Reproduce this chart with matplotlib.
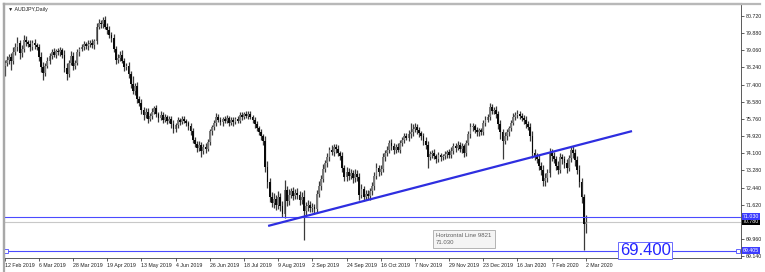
import matplotlib.pyplot as plt
import numpy as np
from matplotlib.lines import Line2D
import matplotlib.transforms as mtransforms

plt.rcParams['font.family'] = ['Liberation Sans', 'DejaVu Sans']

# daily closes, AUDJPY, 12 Feb 2019 .. 2 Mar 2020 (one value per bar)
first_open = 78.30
close = [
    78.44, 78.60, 78.75, 78.55, 78.95, 79.20, 79.40, 78.90, 79.10, 79.55,
    79.45, 79.35, 79.20, 79.40, 79.30, 79.20, 78.75, 78.25, 77.95, 78.30,
    78.55, 78.80, 78.95, 78.85, 79.00, 78.95, 79.05, 78.85, 78.20, 77.90,
    78.45, 78.80, 78.30, 78.45, 78.95, 79.10, 79.20, 79.35, 79.25, 79.35,
    79.40, 79.30, 79.50, 80.20, 80.35, 80.30, 80.50, 80.20, 80.05, 79.80,
    79.65, 79.10, 78.60, 78.70, 78.85, 78.55, 78.25, 78.30, 77.90, 77.45,
    77.10, 77.35, 76.70, 76.50, 76.20, 75.95, 76.10, 75.75, 75.90, 76.10,
    76.25, 76.00, 75.80, 75.95, 75.70, 75.85, 75.65, 75.75, 75.50, 75.25,
    75.45, 75.70, 75.60, 75.75, 75.65, 75.55, 75.40, 75.15, 74.75, 74.55,
    74.35, 74.50, 74.20, 74.40, 74.30, 74.65, 75.15, 75.35, 75.55, 75.85,
    75.70, 75.60, 75.75, 75.65, 75.80, 75.55, 75.70, 75.60, 75.75, 75.65,
    75.95, 75.85, 76.00, 75.90, 76.00, 75.85, 75.70, 75.50, 75.30, 75.10,
    74.90, 74.70, 73.45, 72.70, 72.00, 71.70, 71.90, 71.60, 72.00, 71.55,
    71.15, 72.30, 71.80, 72.10, 72.25, 72.05, 72.20, 72.10, 71.85, 72.00,
    71.30, 71.55, 71.60, 71.45, 71.50, 71.40, 72.15, 72.50, 72.85, 73.35,
    73.60, 73.90, 74.25, 74.15, 74.40, 74.30, 74.10, 73.95, 73.40, 72.95,
    73.20, 73.00, 73.15, 72.90, 73.10, 72.95, 72.10, 72.35, 72.00, 72.15,
    72.05, 72.25, 72.50, 73.00, 73.40, 73.20, 73.35, 73.90, 74.10, 74.25,
    74.60, 74.45, 74.25, 74.40, 74.25, 74.60, 74.75, 74.90, 74.85, 75.00,
    75.10, 75.25, 75.35, 75.20, 75.05, 74.90, 74.70, 74.50, 73.90, 74.05,
    74.10, 73.95, 73.80, 74.00, 73.90, 73.95, 74.05, 74.15, 74.00, 74.20,
    74.45, 74.35, 74.50, 74.30, 74.45, 74.10, 74.60, 75.00, 75.35, 75.40,
    75.20, 75.10, 75.20, 75.10, 75.55, 75.70, 75.85, 76.30, 76.15, 76.20,
    76.00, 75.50, 75.10, 74.70, 74.90, 75.10, 75.30, 75.55, 75.85, 75.95,
    76.00, 75.90, 75.80, 75.70, 75.50, 75.35, 74.90, 74.10, 73.95, 73.80,
    73.50, 73.30, 72.75, 72.90, 73.15, 74.10, 73.95, 73.80, 73.50, 73.30,
    73.90, 73.80, 73.60, 73.40, 73.85, 74.25, 74.10, 73.75, 73.30, 72.70,
    72.00, 70.70, 70.78,
]

# wick lengths above / below the body, in hundredths of a yen
wick_up = [
    15, 20, 12, 18, 25, 20, 30, 15, 22, 25,
    20, 12, 18, 15, 20, 10, 15, 20, 25, 15,
    18, 12, 15, 20, 10, 15, 18, 12, 20, 25,
    15, 20, 18, 12, 15, 10, 18, 15, 12, 20,
    15, 18, 12, 15, 20, 18, 16, 20, 15, 18,
    12, 20, 15, 18, 15, 20, 12, 15, 18, 15,
    35, 12, 18, 15, 20, 12, 15, 18, 12, 15,
    12, 15, 10, 18, 12, 15, 10, 12, 15, 18,
    12, 15, 10, 12, 15, 10, 12, 15, 18, 12,
    15, 20, 12, 15, 18, 15, 12, 10, 15, 20,
    12, 15, 10, 12, 15, 10, 12, 15, 10, 12,
    15, 12, 10, 15, 12, 15, 10, 12, 15, 12,
    15, 12, 20, 25, 18, 22, 30, 20, 25, 20,
    25, 50, 20, 25, 18, 22, 15, 20, 18, 22,
    30, 20, 25, 18, 20, 15, 18, 25, 20, 22,
    18, 20, 15, 25, 12, 15, 18, 12, 20, 15,
    25, 18, 20, 15, 22, 18, 20, 25, 18, 15,
    18, 15, 20, 18, 22, 15, 18, 20, 15, 18,
    15, 18, 12, 15, 18, 15, 12, 18, 15, 20,
    45, 25, 20, 15, 18, 12, 15, 18, 20, 15,
    15, 18, 12, 15, 10, 12, 15, 12, 15, 18,
    12, 15, 18, 12, 15, 10, 15, 18, 20, 15,
    12, 15, 10, 12, 15, 18, 15, 20, 15, 12,
    15, 12, 18, 15, 20, 15, 12, 15, 18, 15,
    20, 15, 12, 15, 18, 15, 20, 25, 18, 15,
    20, 18, 25, 22, 20, 25, 18, 20, 15, 22,
    20, 15, 18, 22, 18, 15, 20, 18, 22, 25,
    20, 15, 32,
]
wick_dn = [
    48, 15, 20, 45, 15, 12, 18, 25, 15, 12,
    18, 15, 20, 12, 18, 15, 20, 25, 35, 15,
    12, 15, 18, 12, 15, 10, 18, 15, 20, 30,
    15, 12, 20, 15, 12, 18, 10, 15, 12, 18,
    15, 12, 18, 15, 12, 18, 15, 12, 20, 15,
    18, 15, 20, 15, 18, 12, 20, 15, 18, 20,
    15, 20, 18, 15, 20, 25, 15, 18, 12, 15,
    12, 15, 18, 12, 15, 10, 15, 12, 20, 18,
    15, 12, 15, 10, 12, 15, 18, 20, 15, 18,
    20, 15, 30, 15, 20, 12, 15, 18, 12, 15,
    12, 15, 18, 12, 10, 15, 12, 18, 12, 10,
    12, 15, 12, 10, 15, 12, 15, 18, 12, 15,
    18, 20, 25, 30, 25, 20, 25, 22, 20, 25,
    15, 20, 25, 20, 18, 22, 15, 20, 25, 20,
    139, 20, 25, 18, 20, 22, 15, 18, 20, 15,
    18, 15, 20, 15, 18, 20, 15, 18, 22, 20,
    18, 20, 15, 22, 18, 20, 25, 18, 20, 15,
    18, 20, 15, 18, 15, 20, 18, 15, 18, 15,
    15, 18, 20, 15, 12, 15, 18, 15, 12, 15,
    15, 18, 15, 20, 18, 15, 20, 18, 50, 15,
    18, 15, 20, 15, 18, 12, 15, 18, 15, 12,
    15, 18, 12, 15, 18, 20, 15, 12, 15, 18,
    15, 18, 20, 15, 12, 15, 12, 15, 18, 15,
    20, 25, 30, 90, 18, 15, 20, 15, 12, 15,
    15, 18, 15, 20, 18, 15, 20, 25, 20, 18,
    20, 25, 25, 22, 20, 18, 25, 20, 22, 20,
    18, 22, 20, 25, 18, 20, 22, 25, 20, 25,
    30, 127, 45,
]

date_labels = ['12 Feb 2019', '6 Mar 2019', '28 Mar 2019', '19 Apr 2019',
               '13 May 2019', '4 Jun 2019', '26 Jun 2019', '18 Jul 2019',
               '9 Aug 2019', '2 Sep 2019', '24 Sep 2019', '16 Oct 2019',
               '7 Nov 2019', '29 Nov 2019', '23 Dec 2019', '16 Jan 2020',
               '7 Feb 2020', '2 Mar 2020']
bars_per_label = 16

price_ticks = [80.720, 79.880, 79.060, 78.240, 77.400, 76.580, 75.760,
               74.920, 74.100, 73.280, 72.440, 71.620, 69.960, 69.140]

hline_price = 71.030
hline_name = 'Horizontal Line 9821'
low_price = 69.405
low_text = '69.400'
trend_x = [123.3, 293.6]
trend_y = [70.59, 75.16]

# --- build candles
c = np.array(close)
o = np.concatenate([[first_open], c[:-1]])
n = len(c)
idx = np.arange(n)
top = np.maximum(o, c)
bot = np.minimum(o, c)
hi = top + np.array(wick_up[:n]) / 100.0
lo = bot - np.array(wick_dn[:n]) / 100.0

fig = plt.figure(figsize=(7.65, 2.72), dpi=100)
ax = fig.add_axes([4 / 765, 14 / 272, 737 / 765, 254 / 272])

ax.vlines(idx, lo, hi, color='#3a3a3a', lw=0.9, zorder=2)
body_col = np.where(c >= o, '#7a7a7a', '#0a0a0a')
ax.bar(idx, np.maximum(top - bot, 0.03), bottom=bot, width=0.85,
       color=body_col, linewidth=0, zorder=3)

blue = '#4b4bff'
ax.axhline(hline_price, color=blue, lw=0.8, zorder=4)
ax.axhline(close[-1], color='#c8c8c8', lw=0.8, zorder=1)
ax.axhline(low_price, color=blue, lw=0.8, zorder=4)
ax.plot(trend_x, trend_y, color='#2e2ee0', lw=1.6, zorder=5,
        solid_capstyle='butt')

trans = mtransforms.blended_transform_factory(ax.transAxes, ax.transData)
ax.plot([0.003, 0.996], [low_price, low_price], transform=trans, ls='none',
        marker='s', ms=2.2, mfc='white', mec=blue, mew=0.6, zorder=6,
        clip_on=False)

ax.text(287.8, low_price, low_text, fontsize=12, color='#2424ff',
        va='center', ha='left', zorder=7,
        bbox=dict(boxstyle='square,pad=0.08', facecolor='white',
                  edgecolor='#6a6aff', lw=0.7))

ax.text(0.586, 0.098, hline_name + '\n' + f'{hline_price:.3f}',
        transform=ax.transAxes, fontsize=4.3, color='#606060',
        va='top', ha='left', linespacing=1.5, zorder=7,
        bbox=dict(boxstyle='square,pad=0.55', facecolor='#f4f4f4',
                  edgecolor='#a8a8a8', lw=0.6))

# right price scale
ax.yaxis.tick_right()
ax.set_yticks(price_ticks)
ax.set_yticklabels([f'{p:.3f}' for p in price_ticks])
ax.tick_params(axis='y', length=2, width=0.5, pad=1.5, labelsize=3.8,
               colors='#202020')
for price, txt, bg in [(close[-1], f'{close[-1]:.3f}', '#000000'),
                       (hline_price, f'{hline_price:.3f}', '#3c3cff'),
                       (low_price, f'{low_price:.3f}', '#3c3cff')]:
    ax.text(1.002, price, txt, transform=trans, fontsize=3.8, color='white',
            va='center', ha='left', clip_on=False, zorder=8,
            bbox=dict(boxstyle='square,pad=0.15', facecolor=bg,
                      edgecolor='none'))

# date scale
tick_pos = np.arange(len(date_labels)) * bars_per_label
ax.set_xticks(tick_pos)
ax.set_xticklabels(date_labels, ha='left')
ax.tick_params(axis='x', length=2, width=0.5, pad=1.5, labelsize=3.8,
               colors='#202020')

ax.set_xlim(-0.3, 344.6)
ax.set_ylim(69.044, 81.285)

ax.spines['left'].set_color('#a8a8a8')
ax.spines['left'].set_linewidth(1.6)
ax.spines['top'].set_color('#b8b8b8')
ax.spines['top'].set_linewidth(1.6)
ax.spines['right'].set_color('#404040')
ax.spines['right'].set_linewidth(0.6)
ax.spines['bottom'].set_color('#404040')
ax.spines['bottom'].set_linewidth(0.6)

fig.add_artist(Line2D([4 / 765, 760 / 765], [1 - 4 / 272, 1 - 4 / 272],
                      color='#b8b8b8', lw=1.6))
fig.add_artist(Line2D([4 / 765, 4 / 765], [0, 1 - 4 / 272],
                      color='#a8a8a8', lw=1.6))

fig.text(8 / 765, 1 - 9 / 272, '\u25bc AUDJPY,Daily', fontsize=3.8,
         color='#202020', va='center', ha='left')

fig.savefig('out.png', dpi=100)
